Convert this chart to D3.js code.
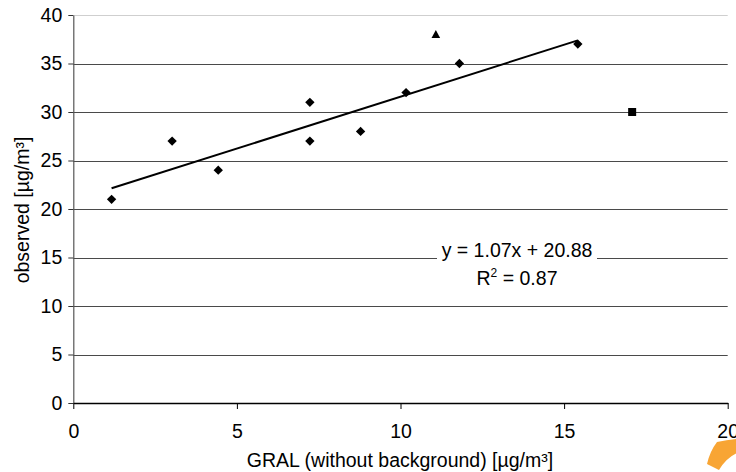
<!DOCTYPE html>
<html>
<head>
<meta charset="utf-8">
<script src="https://cdn.jsdelivr.net/npm/d3@7"></script>
<style>
  body { margin: 0; background: #fff; }
  svg { display: block; font-family: "Liberation Sans", Arial, sans-serif; }
  .axis text { font-size: 19.5px; fill: #000; }
</style>
</head>
<body>
<svg id="plot"></svg>
<script>
'use strict';

const width = 736;
const height = 472;

// diamond series (used for the trend line)
const gralValues = [1.17, 3.02, 4.43, 7.23, 7.23, 8.78, 10.17, 11.8, 15.42];
const observedValues = [21, 27, 24, 31, 27, 28, 32, 35, 37];
// single extra points
const trianglePoint = [11.08, 38];
const squarePoint = [17.08, 30];
// trend line y = a*x + b
const trendCoef = [1.07, 20.88];
const trendText = 'y = 1.07x + 20.88';
const r2Value = '0.87';
const xTicks = [0, 5, 10, 15, 20];
const yTicks = [0, 5, 10, 15, 20, 25, 30, 35, 40];

const svg = d3.select('#plot').attr('width', width).attr('height', height);

const x = d3.scaleLinear().domain([0, 20]).range([73.3, 727.7]);
const y = d3.scaleLinear().domain([0, 40]).range([403, 15]);

// gridlines
svg.append('g')
    .selectAll('line')
    .data(yTicks.filter(t => t > 0))
    .enter()
    .append('line')
    .attr('x1', x(0))
    .attr('x2', x(20))
    .attr('y1', t => Math.round(y(t)) + 0.5)
    .attr('y2', t => Math.round(y(t)) + 0.5)
    .attr('stroke', t => t === 40 ? '#cfcfcf' : '#4a4a4a')
    .attr('stroke-width', 1.2);

// decorative orange corner mark
svg.append('path')
    .attr('d', 'M717,442 Q727,440 737,439 L737,453 Q726,458 719,470 L707,464 Q710,451 717,442 Z')
    .attr('fill', '#f8a534');

// axes
const yAxis = svg.append('g')
    .attr('class', 'axis')
    .attr('transform', `translate(${x(0)},0)`)
    .call(d3.axisLeft(y).tickValues(yTicks).tickSize(5).tickPadding(6).tickSizeOuter(0));
yAxis.select('.domain').attr('stroke', '#555').attr('stroke-width', 1.2);
yAxis.selectAll('.tick line').attr('stroke', '#333');

const xAxis = svg.append('g')
    .attr('class', 'axis')
    .attr('transform', `translate(0,${y(0)})`)
    .call(d3.axisBottom(x).tickValues(xTicks).tickSize(6).tickSizeOuter(0));
xAxis.select('.domain').attr('stroke', '#000').attr('stroke-width', 1.3);
xAxis.selectAll('.tick line').attr('stroke', '#000');
xAxis.selectAll('.tick text').attr('y', 21);

// axis titles
svg.append('text')
    .attr('x', (x(0) + x(20)) / 2 - 0.5)
    .attr('y', 467)
    .attr('text-anchor', 'middle')
    .attr('font-size', '19.5px')
    .text('GRAL (without background) [µg/m³]');

svg.append('text')
    .attr('transform', 'translate(29,210) rotate(-90)')
    .attr('text-anchor', 'middle')
    .attr('font-size', '19.5px')
    .text('observed [µg/m³]');

// trend line
const xExtent = d3.extent(gralValues);
svg.append('line')
    .attr('x1', x(xExtent[0]))
    .attr('x2', x(xExtent[1]))
    .attr('y1', y(trendCoef[0] * xExtent[0] + trendCoef[1]))
    .attr('y2', y(trendCoef[0] * xExtent[1] + trendCoef[1]))
    .attr('stroke', '#000')
    .attr('stroke-width', 2);

// equation label
const labelX = 517;
svg.append('rect')
    .attr('x', 437).attr('y', 238).attr('width', 160).attr('height', 56)
    .attr('fill', '#fff');
svg.append('text')
    .attr('x', labelX).attr('y', 257)
    .attr('text-anchor', 'middle')
    .attr('font-size', '19.5px')
    .text(trendText);
const r2 = svg.append('text')
    .attr('x', labelX).attr('y', 285)
    .attr('text-anchor', 'middle')
    .attr('font-size', '19.5px');
r2.append('tspan').text('R');
r2.append('tspan').attr('font-size', '12px').attr('dy', -8).text('2');
r2.append('tspan').attr('dy', 8).text(' = ' + r2Value);

// markers
const points = gralValues.map((g, i) => ({g, o: observedValues[i]}));
svg.append('g')
    .selectAll('path')
    .data(points)
    .enter()
    .append('path')
    .attr('transform', d => `translate(${x(d.g)},${y(d.o)}) rotate(45)`)
    .attr('d', 'M-3.3,-3.3H3.3V3.3H-3.3Z')
    .attr('fill', '#000');

svg.append('path')
    .attr('transform', `translate(${x(trianglePoint[0])},${y(trianglePoint[1])})`)
    .attr('d', 'M0,-4.5L4.3,3.5H-4.3Z')
    .attr('fill', '#000');

svg.append('rect')
    .attr('x', x(squarePoint[0]) - 4)
    .attr('y', y(squarePoint[1]) - 4)
    .attr('width', 8)
    .attr('height', 8)
    .attr('fill', '#000');
</script>
</body>
</html>
